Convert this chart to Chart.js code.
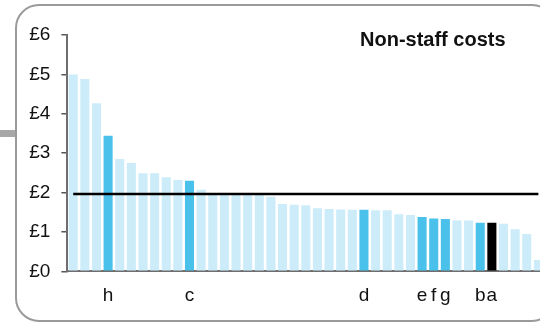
<!DOCTYPE html>
<html>
<head>
<meta charset="utf-8">
<script src="https://cdn.jsdelivr.net/npm/chart.js@4"></script>
<style>
html, body { margin:0; padding:0; overflow:hidden; background:#fff; width:540px; height:323px; }
#frame { position:absolute; left:15px; top:4px; width:541px; height:318px; box-sizing:border-box; border:2px solid #9a9a9a; border-radius:24px; }
#tab { position:absolute; left:0; top:130px; width:15px; height:7px; background:#a8a8a8; }
#title { position:absolute; left:360px; top:29px; font-family:"Liberation Sans", Arial, sans-serif; font-weight:bold; font-size:20px; line-height:20px; color:#111; white-space:nowrap; }
#c { position:absolute; left:0; top:0; }
</style>
</head>
<body>
<div id="frame"></div>
<div id="tab"></div>
<canvas id="c" width="560" height="323"></canvas>
<div id="title">Non-staff costs</div>
<script>
// Category labels (only highlighted bars are labelled)
const categories = ['', '', '', 'h', '', '', '', '', '', '', 'c', '', '', '', '', '', '', '', '', '', '', '', '', '', '', 'd', '', '', '', '', 'e', 'f', 'g', '', '', 'b', 'a', '', '', '', ''];
// Non-staff cost per unit (£)
const costs = [5.00, 4.88, 4.27, 3.44, 2.85, 2.75, 2.49, 2.49, 2.39, 2.32, 2.30, 2.07, 1.94, 1.94, 1.94, 1.94, 1.94, 1.89, 1.71, 1.69, 1.68, 1.60, 1.58, 1.57, 1.56, 1.56, 1.55, 1.55, 1.45, 1.43, 1.38, 1.34, 1.33, 1.29, 1.29, 1.23, 1.23, 1.21, 1.07, 0.95, 0.29];
// Highlight type per bar: 0 = other, 1 = named, 2 = selected
const highlight = [0,0,0,1,0,0,0,0,0,0,1,0,0,0,0,0,0,0,0,0,0,0,0,0,0,1,0,0,0,0,1,1,1,0,0,1,2,0,0,0,0];
// Benchmark line value (£)
const benchmark = [1.96];
const yTicks = [0, 1, 2, 3, 4, 5, 6];

const palette = ['#cdecf9', '#4ac1ea', '#000000'];
const barColors = highlight.map(h => palette[h]);
const lineData = categories.map(() => benchmark[0]);

new Chart(document.getElementById('c'), {
  type: 'bar',
  data: {
    labels: categories,
    datasets: [
      { type: 'line', data: lineData, borderColor: '#000', borderWidth: 2.5, pointRadius: 0, fill: false, order: 0 },
      { type: 'bar', data: costs, backgroundColor: barColors, borderWidth: 0, barPercentage: 0.78, categoryPercentage: 1, order: 1 }
    ]
  },
  options: {
    responsive: false,
    devicePixelRatio: 1,
    animation: false,
    layout: { padding: { left: 0, top: 35, right: 15.8, bottom: 0 } },
    plugins: { legend: { display: false }, tooltip: { enabled: false }, title: { display: false } },
    scales: {
      x: {
        offset: true,
        grid: { display: false, drawTicks: false },
        border: { display: true, color: '#6e6e6e', width: 2 },
        ticks: { autoSkip: false, maxRotation: 0, padding: 13, color: '#111', font: { family: '"Liberation Sans", Arial, sans-serif', size: 19 } },
        afterFit: s => { s.height = 51.7; }
      },
      y: {
        min: 0, max: 6,
        afterBuildTicks: s => { s.ticks = yTicks.map(v => ({ value: v })); },
        grid: { display: true, drawOnChartArea: false, drawTicks: true, tickLength: 6, color: '#555', lineWidth: 1.5 },
        border: { display: true, color: '#6e6e6e', width: 2 },
        ticks: { padding: 11, color: '#111', font: { family: '"Liberation Sans", Arial, sans-serif', size: 19 }, callback: v => '£' + v },
        afterFit: s => { s.width = 67.4; }
      }
    }
  }
});
</script>
</body>
</html>
